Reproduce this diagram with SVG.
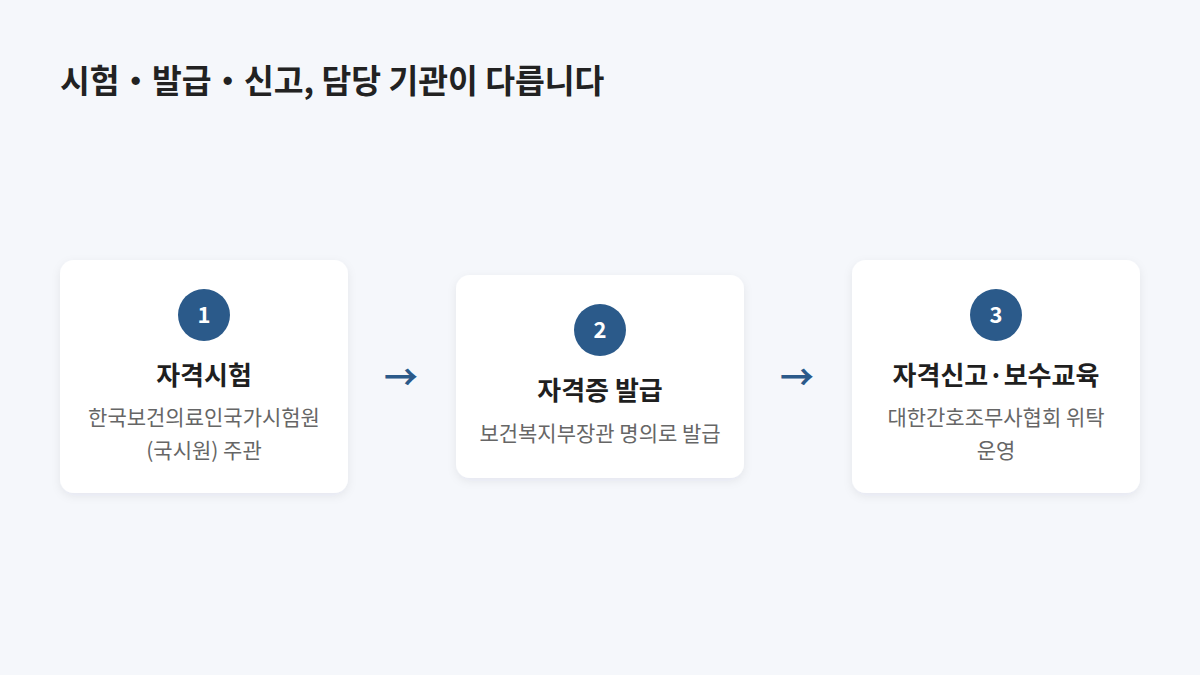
<svg xmlns="http://www.w3.org/2000/svg" width="1200" height="675" viewBox="0 0 1200 675">
<defs>
<style>
.bg{fill:#f5f7fb}
.card{fill:#ffffff}
.num{fill:#2b5a8a}
.numt{fill:#ffffff;font-family:"Noto Sans CJK KR","Noto Sans",sans-serif;font-weight:700;font-size:22px;text-anchor:middle}
.ttl{fill:#1f1f1f;font-family:"Noto Sans CJK KR",sans-serif;font-weight:700;font-size:26px;text-anchor:middle}
.sub{fill:#666666;font-family:"Noto Sans CJK KR",sans-serif;font-size:21px;text-anchor:middle}
.arr{fill:#2b5a8a;font-family:"Noto Sans CJK KR","DejaVu Sans",sans-serif;font-size:34px;text-anchor:middle;font-weight:700}
.head{fill:#222222;font-family:"Noto Sans CJK KR",sans-serif;font-weight:700;font-size:32.4px}
</style>
<filter id="sh" x="-10%" y="-10%" width="120%" height="130%">
<feDropShadow dx="0" dy="3" stdDeviation="5" flood-color="#1e2a3a" flood-opacity="0.07"/>
</filter>
</defs>
<rect class="bg" x="0" y="0" width="1200" height="675"/>
<text class="head" x="60" y="93">시험・발급・신고, 담당 기관이 다릅니다</text>
<g id="connectors">
<text class="arr" x="401" y="390">→</text>
<text class="arr" x="797" y="390">→</text>
</g>
<g id="node1">
<rect class="card" x="60" y="260" width="288" height="233" rx="14" filter="url(#sh)"/>
<circle class="num" cx="204" cy="315" r="26"/>
<text class="numt" x="204" y="323">1</text>
<text class="ttl" x="204" y="385">자격시험</text>
<text class="sub" x="204" y="425">한국보건의료인국가시험원</text>
<text class="sub" x="204" y="458">(국시원) 주관</text>
</g>
<g id="node2">
<rect class="card" x="456" y="275" width="288" height="203" rx="14" filter="url(#sh)"/>
<circle class="num" cx="600" cy="330" r="26"/>
<text class="numt" x="600" y="338">2</text>
<text class="ttl" x="600" y="400">자격증 발급</text>
<text class="sub" x="600" y="441">보건복지부장관 명의로 발급</text>
</g>
<g id="node3">
<rect class="card" x="852" y="260" width="288" height="233" rx="14" filter="url(#sh)"/>
<circle class="num" cx="996" cy="315" r="26"/>
<text class="numt" x="996" y="323">3</text>
<text class="ttl" x="996" y="385">자격신고·보수교육</text>
<text class="sub" x="996" y="425">대한간호조무사협회 위탁</text>
<text class="sub" x="996" y="458">운영</text>
</g>
</svg>
